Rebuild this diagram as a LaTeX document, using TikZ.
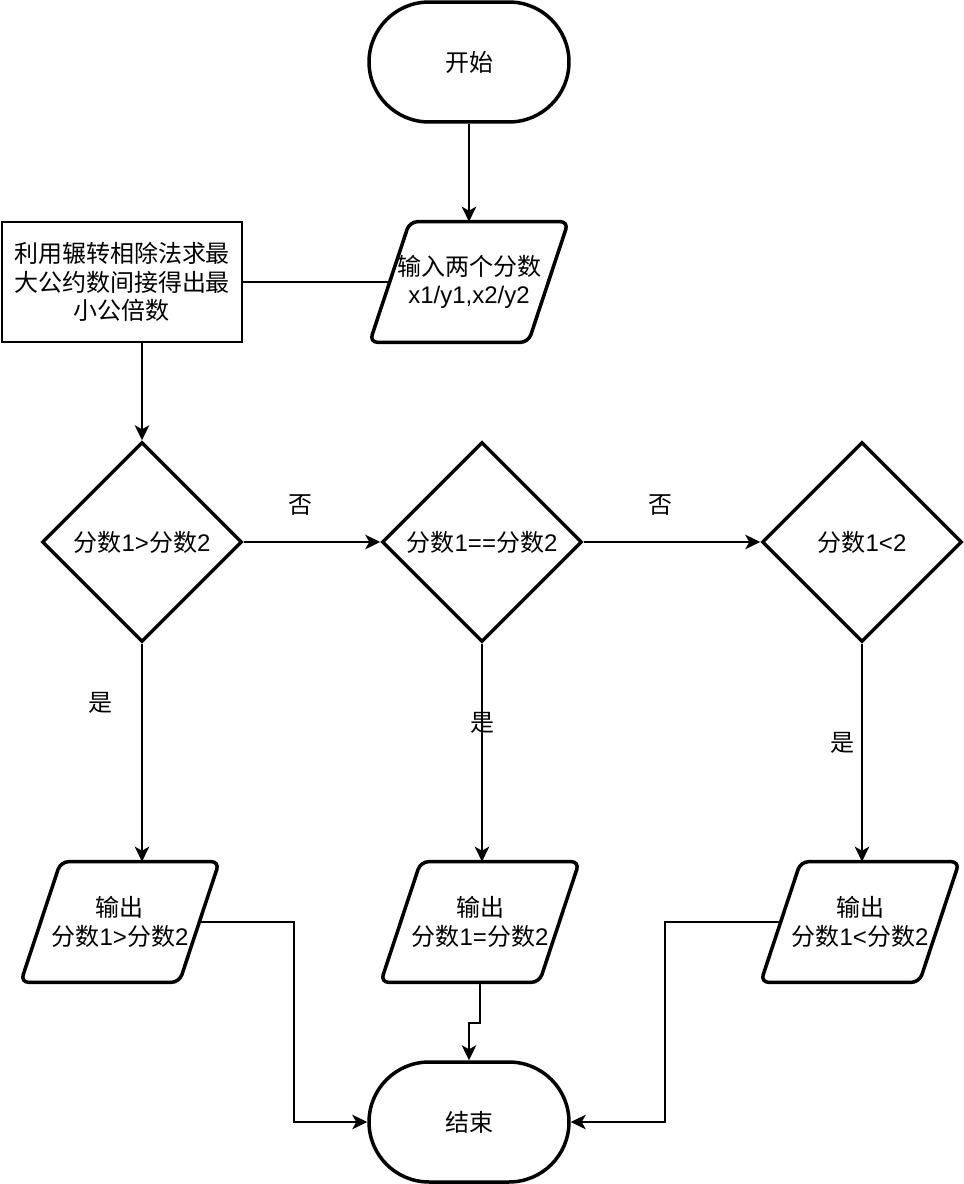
\documentclass[tikz,border=0pt]{standalone}
\usepackage{fontspec}
\setmainfont{Liberation Sans}
\newfontfamily\cjk{Noto Sans CJK SC}
\newcommand\zh[1]{{\cjk #1}}
\usetikzlibrary{shapes.geometric, arrows.meta}

\begin{document}
\begin{tikzpicture}[x=0.02cm, y=-0.02cm, >={Stealth[length=0.3cm, width=0.29cm, inset=0.08cm]},
  every node/.style={font=\fontsize{13.66pt}{16.3pt}\selectfont, align=center},
  terminal/.style={draw, line width=0.07cm, rounded corners=1.2cm, minimum width=4cm, minimum height=2.4cm},
  io/.style={minimum width=3.16cm, minimum height=2.4cm, inner sep=0pt},
  slant/.style={line width=0.07cm, rounded corners=0.16cm},
  process/.style={draw, line width=0.045cm, minimum width=4.8cm, minimum height=2.4cm},
  decision/.style={draw, line width=0.07cm, diamond, minimum width=4cm, minimum height=4cm, inner sep=0pt},
  flow/.style={->, line width=0.04cm},
  lbl/.style={inner sep=0pt}]
  \useasboundingbox (0,0) rectangle (964,1184);
  \node[terminal] (start) at (469,62) {\zh{开始}};
  \node[io] (input) at (469,282) {\zh{输入两个分数}\\x1/y1,x2/y2};
  \node[process] (gcd) at (122,282) {\zh{利用辗转相除法求最}\\\zh{大公约数间接得出最}\\\zh{小公倍数}};
  \node[decision] (gt) at (142,542) {\zh{分数}1>\zh{分数}2};
  \node[decision] (eq) at (482,542) {\zh{分数}1==\zh{分数}2};
  \node[decision] (lt) at (862,542) {\zh{分数}1<2};
  \node[io] (outgt) at (120,922) {\zh{输出}\\\zh{分数}1>\zh{分数}2};
  \node[io] (outeq) at (480,922) {\zh{输出}\\\zh{分数}1=\zh{分数}2};
  \node[io] (outlt) at (860,922) {\zh{输出}\\\zh{分数}1<\zh{分数}2};
  \node[terminal] (stop) at (469,1122) {\zh{结束}};
  \foreach \n in {input,outgt,outeq,outlt}
    \draw[slant] (\n.north) -- ([xshift=0.4cm]\n.north east) -- ([xshift=-0.4cm]\n.south east)
      -- ([xshift=-0.4cm]\n.south west) -- ([xshift=0.4cm]\n.north west) -- cycle;
  \node[lbl] (no1) at (300,505) {\zh{否}};
  \node[lbl] (no2) at (660,505) {\zh{否}};
  \node[lbl] (yes1) at (100,703) {\zh{是}};
  \node[lbl] (yes2) at (482,723) {\zh{是}};
  \node[lbl] (yes3) at (842,743) {\zh{是}};
  \draw[flow] (start) -- (input);
  \draw[line width=0.04cm] (gcd.east) -- (input.west);
  \draw[flow] (gcd.south -| gt.north) -- (gt.north);
  \draw[flow] (gt) -- (eq);
  \draw[flow] (eq) -- (lt);
  \draw[flow] (gt.south) -- (gt.south |- outgt.north);
  \draw[flow] (eq.south) -- (eq.south |- outeq.north);
  \draw[flow] (lt.south) -- (lt.south |- outlt.north);
  \draw[flow] (outgt.east) -- ++(95,0) |- (stop.west);
  \draw[flow] (outeq.south) -- ++(0,41) -| (stop.north);
  \draw[flow] (outlt.west) -- ++(-116,0) |- (stop.east);
\end{tikzpicture}
\end{document}
